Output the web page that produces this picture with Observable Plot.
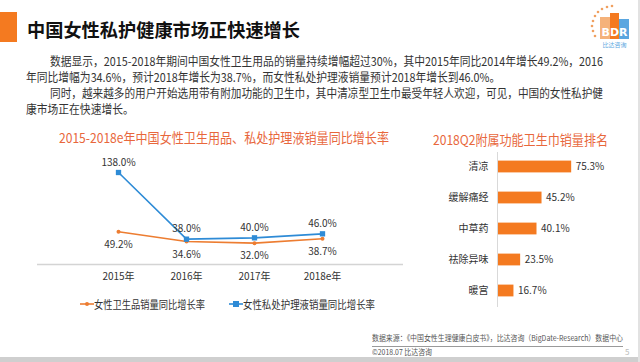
<!DOCTYPE html>
<html><head><meta charset="utf-8">
<script src="https://cdn.jsdelivr.net/npm/d3@7"></script>
<script src="https://cdn.jsdelivr.net/npm/@observablehq/plot@0.6"></script>
<style>
html,body{margin:0;padding:0}
body{width:640px;height:362px;overflow:hidden;background:#fff;position:relative;font-family:"Noto Sans CJK SC","Noto Sans",sans-serif;color:#333}
.a{position:absolute;white-space:nowrap;line-height:1;transform-origin:0 50%}
.chart{position:absolute}
</style></head>
<body>
<div class="a" style="left:0;top:12px;width:17px;height:30px;background:#f47a20"></div>
<div class="a" data-w="273" style="left:27px;top:20px;font-size:18.5px;font-weight:bold;color:#111">中国女性私护健康市场正快速增长</div>

<svg class="a" style="left:586px;top:3px" width="48" height="48" viewBox="0 0 48 48">
  <g fill="#f0a060">
    <circle cx="26" cy="3" r="1.3"/><circle cx="21" cy="4" r="1.3"/><circle cx="16" cy="6" r="1.3"/>
    <circle cx="12" cy="9" r="1.3"/><circle cx="9" cy="13" r="1.3"/><circle cx="7" cy="18" r="1.3"/>
    <circle cx="6" cy="23" r="1.3"/><circle cx="7" cy="28" r="1.3"/><circle cx="9" cy="33" r="1.3"/>
  </g>
  <rect x="14" y="14" width="10" height="22" fill="#f5b27a"/>
  <rect x="24" y="10" width="9" height="26" fill="#f47a20"/>
  <rect x="33" y="16" width="10" height="20" fill="#5aa6e0"/>
  <text x="28.5" y="33" text-anchor="middle" font-size="11" font-weight="bold" fill="#fff" font-family="DejaVu Sans">BDR</text>
  <text x="28.5" y="44" text-anchor="middle" font-size="6" fill="#5aa6e0" font-family="Noto Sans CJK SC">比达咨询</text>
</svg>

<div class="a" id="p1" data-w="553" style="left:50px;top:55px;font-size:12px">数据显示，2015-2018年期间中国女性卫生用品的销量持续增幅超过30%，其中2015年同比2014年增长49.2%，2016</div>
<div class="a" id="p2" style="left:26px;top:71px;font-size:12px">年同比增幅为34.6%，预计2018年增长为38.7%，而女性私处护理液销量预计2018年增长到46.0%。</div>
<div class="a" id="p3" data-w="553" style="left:50px;top:87px;font-size:12px">同时，越来越多的用户开始选用带有附加功能的卫生巾，其中清凉型卫生巾最受年轻人欢迎，可见，中国的女性私护健</div>
<div class="a" id="p4" style="left:26px;top:103px;font-size:12px">康市场正在快速增长。</div>

<div class="a" data-w="330" style="left:59px;top:131px;font-size:13.5px;color:#e8673c">2015-2018e年中国女性卫生用品、私处护理液销量同比增长率</div>
<div class="a" data-w="175" style="left:433px;top:133px;font-size:13.5px;color:#e8673c">2018Q2附属功能卫生巾销量排名</div>

<div id="left" class="chart" style="left:0;top:150px"></div>
<div id="right" class="chart" style="left:400px;top:140px"></div>

<svg class="a" style="left:80px;top:299px" width="14" height="10"><line x1="0" y1="5" x2="14" y2="5" stroke="#ed7d31" stroke-width="1.6"/><circle cx="7" cy="5" r="2" fill="#ed7d31"/></svg>
<div class="a" data-w="111" style="left:94px;top:298.5px;font-size:11px">女性卫生品销量同比增长率</div>
<svg class="a" style="left:229px;top:299px" width="14" height="10"><line x1="0" y1="5" x2="14" y2="5" stroke="#2e8bd6" stroke-width="1.6"/><rect x="4" y="2" width="6" height="6" fill="#2e8bd6"/></svg>
<div class="a" data-w="132" style="left:243px;top:298.5px;font-size:11px">女性私处护理液销量同比增长率</div>

<div class="a" data-w="251" style="left:372px;top:334px;font-size:8px;color:#555">数据来源：《中国女性生理健康白皮书》，比达咨询（BigDate-Research）数据中心</div>
<div class="a" style="left:372px;top:345.5px;width:251px;height:1px;background:#9a9a9a"></div>
<div class="a" data-w="60" style="left:372px;top:348px;font-size:8px;color:#555">©2018.07 比达咨询</div>
<div class="a" style="left:625px;top:348px;font-size:8px;color:#bbb">5</div>
<div class="a" style="left:0;top:357px;width:640px;height:5px;background:#cfcfcf"></div>
<div class="a" style="left:638px;top:0;width:2px;height:362px;background:#e2e2e2"></div>

<script>
const years = ["2015年", "2016年", "2017年", "2018e年"];
const hygieneGrowth = [49.2, 34.6, 32.0, 38.7];
const careGrowth = [138.0, 38.0, 40.0, 46.0];
const features = ["清凉", "缓解痛经", "中草药", "祛除异味", "暖宫"];
const featureShare = [75.3, 45.2, 40.1, 23.5, 16.7];

const font = '"Noto Sans CJK SC","Noto Sans",sans-serif';
const orange = "#ed7d31", blue = "#2e8bd6";
const hData = years.map((y, i) => ({year: y, v: hygieneGrowth[i]}));
const cData = years.map((y, i) => ({year: y, v: careGrowth[i]}));
const pct = d => d.v.toFixed(1) + "%";

const left = Plot.plot({
  width: 410, height: 140,
  marginLeft: 37, marginRight: 7, marginTop: 14, marginBottom: 26,
  style: {fontFamily: font, fontSize: "10px", color: "#333", background: "transparent"},
  x: {type: "point", domain: years, range: [83, 357.5], label: null},
  y: {domain: [0, 150], axis: null},
  marks: [
    Plot.ruleY([0], {stroke: "#d4d4d4", strokeWidth: 1.5}),
    Plot.axisX({tickSize: 0, tickPadding: 8, fontSize: 10, label: null}),
    Plot.lineY(hData, {x: "year", y: "v", stroke: orange, strokeWidth: 1.6}),
    Plot.dot(hData, {x: "year", y: "v", r: 2, fill: orange}),
    Plot.lineY(cData, {x: "year", y: "v", stroke: blue, strokeWidth: 1.6}),
    Plot.dot(cData, {x: "year", y: "v", r: 3, symbol: "square", fill: blue}),
    Plot.text(cData, {x: "year", y: "v", text: pct, dy: -10, fontSize: 10, fill: "#333"}),
    Plot.text(hData, {x: "year", y: "v", text: pct, dy: 13, fontSize: 10, fill: "#333"})
  ]
});
document.getElementById("left").appendChild(left);

const bData = features.map((f, i) => ({f, v: featureShare[i]}));
const right = Plot.plot({
  width: 240, height: 180,
  marginLeft: 97, marginRight: 44.5, marginTop: 12, marginBottom: 13,
  style: {fontFamily: font, fontSize: "10px", color: "#333", background: "transparent"},
  x: {domain: [0, 100], range: [97, 195.5], axis: null},
  y: {type: "band", domain: features, range: [10.4, 166.6], padding: 0, label: null},
  marks: [
    Plot.barX(bData, {x: "v", y: "f", fill: "#f47a20", insetTop: 9.6, insetBottom: 9.6}),
    Plot.ruleX([0], {stroke: "#d9d9d9"}),
    Plot.axisY({tickSize: 0, tickPadding: 9, fontSize: 10, label: null}),
    Plot.text(bData, {x: "v", y: "f", text: pct, textAnchor: "start", dx: 4, fontSize: 10, fill: "#333"})
  ]
});
document.getElementById("right").appendChild(right);

function fit() {
  let k = 1;
  document.querySelectorAll("[data-w]").forEach(el => {
    el.style.transform = "none";
    const w = el.getBoundingClientRect().width;
    const t = +el.dataset.w;
    if (w > 0) {
      el.style.transform = `scaleX(${t / w})`;
      if (el.id === "p1") k = t / w;
    }
  });
  ["p2", "p4"].forEach(id => document.getElementById(id).style.transform = `scaleX(${k})`);
}
fit();
if (document.fonts && document.fonts.ready) document.fonts.ready.then(fit);
</script>
</body></html>
